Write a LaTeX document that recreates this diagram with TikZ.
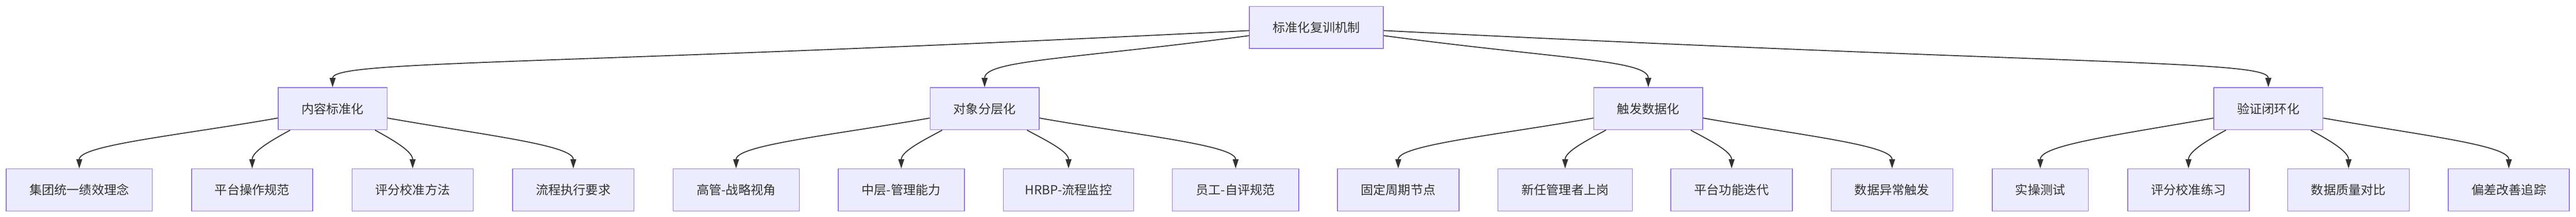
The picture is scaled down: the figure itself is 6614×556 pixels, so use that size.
\documentclass[tikz,border=0pt]{standalone}
\usepackage{fontspec}
\newfontfamily\cjk{Noto Sans CJK SC}
\usetikzlibrary{calc,arrows.meta}
\definecolor{fillc}{HTML}{ECECFF}
\definecolor{strokec}{HTML}{9370DB}
\definecolor{linec}{HTML}{333333}
\begin{document}
\begin{tikzpicture}[x=1pt,y=-1pt,
  box/.style={draw=strokec, fill=fillc, line width=2pt, minimum height=108pt, inner sep=0pt, text=linec, font=\cjk\fontsize{32}{38}\selectfont, minimum width=#1},
  edge/.style={draw=linec, line width=2.5pt, -{Triangle[length=24pt,width=15pt]}}]
\useasboundingbox (0,0) rectangle (6614,556);
\node[box=344pt] (root) at (3380,70.5) {标准化复训机制};
\node[box=280pt] (c1) at (854,279) {内容标准化};
\node[box=280pt] (c2) at (2528,279) {对象分层化};
\node[box=280pt] (c3) at (4232,279) {触发数据化};
\node[box=280pt] (c4) at (5824,279) {验证闭环化};
\node[box=375pt] (a1) at (203.5,487.5) {集团统一绩效理念};
\node[box=311pt] (a2) at (647.5,487.5) {平台操作规范};
\node[box=311pt] (a3) at (1059.5,487.5) {评分校准方法};
\node[box=312pt] (a4) at (1472,487.5) {流程执行要求};
\node[box=324pt] (b1) at (1890,487.5) {高管-战略视角};
\node[box=324pt] (b2) at (2314,487.5) {中层-管理能力};
\node[box=335pt] (b3) at (2743.5,487.5) {HRBP-流程监控};
\node[box=325pt] (b4) at (3172.5,487.5) {员工-自评规范};
\node[box=312pt] (d1) at (3590,487.5) {固定周期节点};
\node[box=345pt] (d2) at (4018.5,487.5) {新任管理者上岗};
\node[box=312pt] (d3) at (4446,487.5) {平台功能迭代};
\node[box=312pt] (d4) at (4858,487.5) {数据异常触发};
\node[box=247pt] (e1) at (5238.5,487.5) {实操测试};
\node[box=312pt] (e2) at (5619,487.5) {评分校准练习};
\node[box=312pt] (e3) at (6030,487.5) {数据质量对比};
\node[box=311pt] (e4) at (6441.5,487.5) {偏差改善追踪};
\draw[edge] ($(root.west)+(0,8)$) .. controls +(-1800,90) and +(0,-70) .. (c1.north);
\draw[edge] ($(root.west)+(0,21)$) .. controls +(-450,60) and +(0,-70) .. (c2.north);
\draw[edge] ($(root.east)+(0,21)$) .. controls +(450,60) and +(0,-70) .. (c3.north);
\draw[edge] ($(root.east)+(0,8)$) .. controls +(1800,90) and +(0,-70) .. (c4.north);
\foreach \p/\a/\b/\c/\d in {c1/a1/a2/a3/a4, c2/b1/b2/b3/b4, c3/d1/d2/d3/d4, c4/e1/e2/e3/e4} {
  \draw[edge] ($(\p.west)+(0,24)$) .. controls +(-250,44) and +(0,-60) .. (\a.north);
  \draw[edge] ($(\p.south)+(-109,0)$) .. controls +(-40,22) and +(0,-45) .. (\b.north);
  \draw[edge] ($(\p.south)+(109,0)$) .. controls +(40,22) and +(0,-45) .. (\c.north);
  \draw[edge] ($(\p.east)+(0,24)$) .. controls +(250,44) and +(0,-60) .. (\d.north);
}
\end{tikzpicture}
\end{document}
